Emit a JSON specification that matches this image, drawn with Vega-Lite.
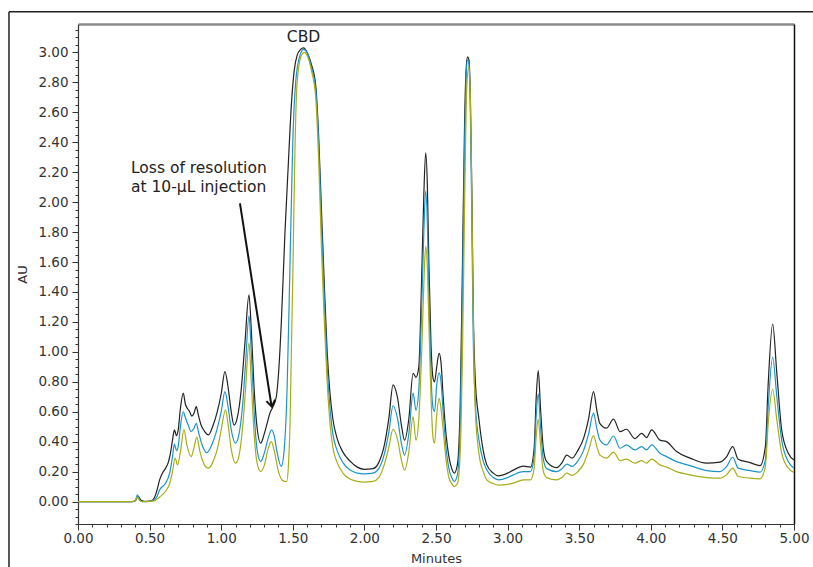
{
  "$schema": "https://vega.github.io/schema/vega-lite/v6.json",
  "width": 716,
  "height": 500,
  "autosize": "none",
  "padding": {"left": 78, "top": 24, "right": 19, "bottom": 43},
  "background": "white",
  "config": {
    "view": {"stroke": null},
    "font": "DejaVu Sans",
    "axis": {"grid": false, "labelFont": "DejaVu Sans", "titleFont": "DejaVu Sans", "labelColor": "#333333", "titleColor": "#333333", "tickColor": "#333333", "domainColor": "#333333", "labelFlush": false}
  },
  "datasets": {
    "traces": [
      {"s":"trace 1","t":0,"v":0},{"s":"trace 1","t":0.38,"v":0},{"s":"trace 1","t":0.4,"v":0.005},{"s":"trace 1","t":0.42,"v":0.035},{"s":"trace 1","t":0.44,"v":0.008},{"s":"trace 1","t":0.47,"v":0},{"s":"trace 1","t":0.51,"v":0.004},{"s":"trace 1","t":0.53,"v":0.02},{"s":"trace 1","t":0.55,"v":0.07},{"s":"trace 1","t":0.57,"v":0.145},{"s":"trace 1","t":0.59,"v":0.19},{"s":"trace 1","t":0.61,"v":0.22},{"s":"trace 1","t":0.63,"v":0.26},{"s":"trace 1","t":0.645,"v":0.32},{"s":"trace 1","t":0.66,"v":0.41},{"s":"trace 1","t":0.673,"v":0.479},{"s":"trace 1","t":0.688,"v":0.44},{"s":"trace 1","t":0.7,"v":0.48},{"s":"trace 1","t":0.715,"v":0.62},{"s":"trace 1","t":0.735,"v":0.724},{"s":"trace 1","t":0.75,"v":0.65},{"s":"trace 1","t":0.765,"v":0.62},{"s":"trace 1","t":0.78,"v":0.6},{"s":"trace 1","t":0.795,"v":0.57},{"s":"trace 1","t":0.81,"v":0.59},{"s":"trace 1","t":0.826,"v":0.634},{"s":"trace 1","t":0.84,"v":0.58},{"s":"trace 1","t":0.86,"v":0.51},{"s":"trace 1","t":0.88,"v":0.475},{"s":"trace 1","t":0.91,"v":0.445},{"s":"trace 1","t":0.94,"v":0.5},{"s":"trace 1","t":0.97,"v":0.59},{"s":"trace 1","t":1.0,"v":0.72},{"s":"trace 1","t":1.026,"v":0.868},{"s":"trace 1","t":1.05,"v":0.75},{"s":"trace 1","t":1.07,"v":0.6},{"s":"trace 1","t":1.09,"v":0.51},{"s":"trace 1","t":1.11,"v":0.55},{"s":"trace 1","t":1.14,"v":0.75},{"s":"trace 1","t":1.165,"v":1.05},{"s":"trace 1","t":1.194,"v":1.38},{"s":"trace 1","t":1.21,"v":1.15},{"s":"trace 1","t":1.23,"v":0.75},{"s":"trace 1","t":1.25,"v":0.5},{"s":"trace 1","t":1.276,"v":0.39},{"s":"trace 1","t":1.3,"v":0.45},{"s":"trace 1","t":1.32,"v":0.52},{"s":"trace 1","t":1.34,"v":0.59},{"s":"trace 1","t":1.36,"v":0.63},{"s":"trace 1","t":1.385,"v":0.7},{"s":"trace 1","t":1.4,"v":0.85},{"s":"trace 1","t":1.42,"v":1.2},{"s":"trace 1","t":1.445,"v":1.79},{"s":"trace 1","t":1.468,"v":2.24},{"s":"trace 1","t":1.49,"v":2.65},{"s":"trace 1","t":1.51,"v":2.88},{"s":"trace 1","t":1.53,"v":2.98},{"s":"trace 1","t":1.555,"v":3.02},{"s":"trace 1","t":1.575,"v":3.03},{"s":"trace 1","t":1.6,"v":3.0},{"s":"trace 1","t":1.63,"v":2.92},{"s":"trace 1","t":1.66,"v":2.78},{"s":"trace 1","t":1.68,"v":2.45},{"s":"trace 1","t":1.7,"v":1.95},{"s":"trace 1","t":1.72,"v":1.45},{"s":"trace 1","t":1.74,"v":1.0},{"s":"trace 1","t":1.76,"v":0.72},{"s":"trace 1","t":1.78,"v":0.55},{"s":"trace 1","t":1.81,"v":0.42},{"s":"trace 1","t":1.85,"v":0.33},{"s":"trace 1","t":1.9,"v":0.27},{"s":"trace 1","t":1.95,"v":0.23},{"s":"trace 1","t":2.0,"v":0.215},{"s":"trace 1","t":2.06,"v":0.22},{"s":"trace 1","t":2.1,"v":0.26},{"s":"trace 1","t":2.14,"v":0.38},{"s":"trace 1","t":2.17,"v":0.55},{"s":"trace 1","t":2.2,"v":0.78},{"s":"trace 1","t":2.23,"v":0.7},{"s":"trace 1","t":2.26,"v":0.5},{"s":"trace 1","t":2.28,"v":0.41},{"s":"trace 1","t":2.31,"v":0.55},{"s":"trace 1","t":2.34,"v":0.857},{"s":"trace 1","t":2.36,"v":0.83},{"s":"trace 1","t":2.38,"v":0.9},{"s":"trace 1","t":2.4,"v":1.5},{"s":"trace 1","t":2.415,"v":2.05},{"s":"trace 1","t":2.428,"v":2.33},{"s":"trace 1","t":2.44,"v":2.1},{"s":"trace 1","t":2.45,"v":1.6},{"s":"trace 1","t":2.465,"v":1.05},{"s":"trace 1","t":2.48,"v":0.82},{"s":"trace 1","t":2.49,"v":0.8},{"s":"trace 1","t":2.505,"v":0.9},{"s":"trace 1","t":2.522,"v":0.99},{"s":"trace 1","t":2.535,"v":0.93},{"s":"trace 1","t":2.55,"v":0.7},{"s":"trace 1","t":2.57,"v":0.45},{"s":"trace 1","t":2.59,"v":0.3},{"s":"trace 1","t":2.61,"v":0.22},{"s":"trace 1","t":2.628,"v":0.19},{"s":"trace 1","t":2.65,"v":0.25},{"s":"trace 1","t":2.67,"v":0.7},{"s":"trace 1","t":2.685,"v":1.6},{"s":"trace 1","t":2.7,"v":2.55},{"s":"trace 1","t":2.71,"v":2.88},{"s":"trace 1","t":2.72,"v":2.97},{"s":"trace 1","t":2.73,"v":2.95},{"s":"trace 1","t":2.74,"v":2.7},{"s":"trace 1","t":2.75,"v":2.1},{"s":"trace 1","t":2.76,"v":1.3},{"s":"trace 1","t":2.775,"v":0.8},{"s":"trace 1","t":2.8,"v":0.55},{"s":"trace 1","t":2.83,"v":0.34},{"s":"trace 1","t":2.855,"v":0.245},{"s":"trace 1","t":2.9,"v":0.19},{"s":"trace 1","t":2.935,"v":0.172},{"s":"trace 1","t":3.0,"v":0.19},{"s":"trace 1","t":3.04,"v":0.21},{"s":"trace 1","t":3.11,"v":0.236},{"s":"trace 1","t":3.16,"v":0.23},{"s":"trace 1","t":3.185,"v":0.35},{"s":"trace 1","t":3.2,"v":0.7},{"s":"trace 1","t":3.214,"v":0.875},{"s":"trace 1","t":3.23,"v":0.62},{"s":"trace 1","t":3.25,"v":0.35},{"s":"trace 1","t":3.273,"v":0.267},{"s":"trace 1","t":3.343,"v":0.227},{"s":"trace 1","t":3.38,"v":0.26},{"s":"trace 1","t":3.413,"v":0.31},{"s":"trace 1","t":3.45,"v":0.29},{"s":"trace 1","t":3.49,"v":0.34},{"s":"trace 1","t":3.53,"v":0.42},{"s":"trace 1","t":3.565,"v":0.55},{"s":"trace 1","t":3.6,"v":0.734},{"s":"trace 1","t":3.625,"v":0.6},{"s":"trace 1","t":3.645,"v":0.52},{"s":"trace 1","t":3.69,"v":0.49},{"s":"trace 1","t":3.74,"v":0.55},{"s":"trace 1","t":3.785,"v":0.467},{"s":"trace 1","t":3.83,"v":0.483},{"s":"trace 1","t":3.89,"v":0.42},{"s":"trace 1","t":3.936,"v":0.456},{"s":"trace 1","t":3.97,"v":0.427},{"s":"trace 1","t":4.006,"v":0.479},{"s":"trace 1","t":4.064,"v":0.41},{"s":"trace 1","t":4.11,"v":0.4},{"s":"trace 1","t":4.18,"v":0.334},{"s":"trace 1","t":4.274,"v":0.29},{"s":"trace 1","t":4.39,"v":0.256},{"s":"trace 1","t":4.483,"v":0.263},{"s":"trace 1","t":4.53,"v":0.3},{"s":"trace 1","t":4.572,"v":0.367},{"s":"trace 1","t":4.61,"v":0.283},{"s":"trace 1","t":4.693,"v":0.26},{"s":"trace 1","t":4.763,"v":0.24},{"s":"trace 1","t":4.8,"v":0.367},{"s":"trace 1","t":4.82,"v":0.79},{"s":"trace 1","t":4.851,"v":1.186},{"s":"trace 1","t":4.88,"v":0.857},{"s":"trace 1","t":4.914,"v":0.479},{"s":"trace 1","t":4.96,"v":0.323},{"s":"trace 1","t":5.0,"v":0.278},

      {"s":"trace 2","t":0,"v":0},{"s":"trace 2","t":0.38,"v":0},{"s":"trace 2","t":0.4,"v":0.005},{"s":"trace 2","t":0.415,"v":0.045},{"s":"trace 2","t":0.43,"v":0.01},{"s":"trace 2","t":0.45,"v":0},{"s":"trace 2","t":0.52,"v":0.004},{"s":"trace 2","t":0.55,"v":0.03},{"s":"trace 2","t":0.57,"v":0.078},{"s":"trace 2","t":0.61,"v":0.12},{"s":"trace 2","t":0.64,"v":0.19},{"s":"trace 2","t":0.66,"v":0.3},{"s":"trace 2","t":0.673,"v":0.383},{"s":"trace 2","t":0.688,"v":0.34},{"s":"trace 2","t":0.7,"v":0.37},{"s":"trace 2","t":0.715,"v":0.5},{"s":"trace 2","t":0.735,"v":0.6},{"s":"trace 2","t":0.75,"v":0.56},{"s":"trace 2","t":0.77,"v":0.51},{"s":"trace 2","t":0.79,"v":0.467},{"s":"trace 2","t":0.81,"v":0.49},{"s":"trace 2","t":0.826,"v":0.523},{"s":"trace 2","t":0.84,"v":0.47},{"s":"trace 2","t":0.87,"v":0.37},{"s":"trace 2","t":0.9,"v":0.327},{"s":"trace 2","t":0.93,"v":0.37},{"s":"trace 2","t":0.97,"v":0.48},{"s":"trace 2","t":1.0,"v":0.6},{"s":"trace 2","t":1.026,"v":0.734},{"s":"trace 2","t":1.05,"v":0.62},{"s":"trace 2","t":1.07,"v":0.48},{"s":"trace 2","t":1.1,"v":0.39},{"s":"trace 2","t":1.12,"v":0.43},{"s":"trace 2","t":1.15,"v":0.65},{"s":"trace 2","t":1.17,"v":0.92},{"s":"trace 2","t":1.194,"v":1.24},{"s":"trace 2","t":1.21,"v":1.0},{"s":"trace 2","t":1.23,"v":0.6},{"s":"trace 2","t":1.25,"v":0.35},{"s":"trace 2","t":1.276,"v":0.267},{"s":"trace 2","t":1.3,"v":0.32},{"s":"trace 2","t":1.33,"v":0.43},{"s":"trace 2","t":1.352,"v":0.479},{"s":"trace 2","t":1.37,"v":0.44},{"s":"trace 2","t":1.39,"v":0.33},{"s":"trace 2","t":1.42,"v":0.234},{"s":"trace 2","t":1.44,"v":0.35},{"s":"trace 2","t":1.46,"v":0.75},{"s":"trace 2","t":1.475,"v":1.35},{"s":"trace 2","t":1.49,"v":2.0},{"s":"trace 2","t":1.5,"v":2.4},{"s":"trace 2","t":1.52,"v":2.8},{"s":"trace 2","t":1.55,"v":2.98},{"s":"trace 2","t":1.575,"v":3.02},{"s":"trace 2","t":1.6,"v":3.0},{"s":"trace 2","t":1.63,"v":2.9},{"s":"trace 2","t":1.66,"v":2.75},{"s":"trace 2","t":1.68,"v":2.4},{"s":"trace 2","t":1.7,"v":1.85},{"s":"trace 2","t":1.72,"v":1.35},{"s":"trace 2","t":1.74,"v":0.9},{"s":"trace 2","t":1.76,"v":0.62},{"s":"trace 2","t":1.78,"v":0.45},{"s":"trace 2","t":1.81,"v":0.34},{"s":"trace 2","t":1.85,"v":0.26},{"s":"trace 2","t":1.9,"v":0.21},{"s":"trace 2","t":1.95,"v":0.19},{"s":"trace 2","t":2.0,"v":0.185},{"s":"trace 2","t":2.06,"v":0.19},{"s":"trace 2","t":2.1,"v":0.22},{"s":"trace 2","t":2.14,"v":0.32},{"s":"trace 2","t":2.17,"v":0.46},{"s":"trace 2","t":2.2,"v":0.64},{"s":"trace 2","t":2.23,"v":0.56},{"s":"trace 2","t":2.26,"v":0.38},{"s":"trace 2","t":2.28,"v":0.31},{"s":"trace 2","t":2.31,"v":0.45},{"s":"trace 2","t":2.34,"v":0.724},{"s":"trace 2","t":2.36,"v":0.61},{"s":"trace 2","t":2.38,"v":0.75},{"s":"trace 2","t":2.4,"v":1.3},{"s":"trace 2","t":2.415,"v":1.8},{"s":"trace 2","t":2.428,"v":2.076},{"s":"trace 2","t":2.44,"v":1.85},{"s":"trace 2","t":2.45,"v":1.4},{"s":"trace 2","t":2.465,"v":0.85},{"s":"trace 2","t":2.48,"v":0.62},{"s":"trace 2","t":2.49,"v":0.6},{"s":"trace 2","t":2.505,"v":0.78},{"s":"trace 2","t":2.522,"v":0.86},{"s":"trace 2","t":2.535,"v":0.8},{"s":"trace 2","t":2.55,"v":0.6},{"s":"trace 2","t":2.57,"v":0.36},{"s":"trace 2","t":2.59,"v":0.22},{"s":"trace 2","t":2.61,"v":0.16},{"s":"trace 2","t":2.628,"v":0.134},{"s":"trace 2","t":2.65,"v":0.18},{"s":"trace 2","t":2.67,"v":0.55},{"s":"trace 2","t":2.685,"v":1.4},{"s":"trace 2","t":2.7,"v":2.4},{"s":"trace 2","t":2.71,"v":2.82},{"s":"trace 2","t":2.72,"v":2.95},{"s":"trace 2","t":2.73,"v":2.93},{"s":"trace 2","t":2.74,"v":2.6},{"s":"trace 2","t":2.75,"v":1.9},{"s":"trace 2","t":2.76,"v":1.1},{"s":"trace 2","t":2.775,"v":0.65},{"s":"trace 2","t":2.8,"v":0.41},{"s":"trace 2","t":2.83,"v":0.27},{"s":"trace 2","t":2.855,"v":0.21},{"s":"trace 2","t":2.9,"v":0.16},{"s":"trace 2","t":2.935,"v":0.145},{"s":"trace 2","t":3.0,"v":0.16},{"s":"trace 2","t":3.04,"v":0.178},{"s":"trace 2","t":3.11,"v":0.2},{"s":"trace 2","t":3.16,"v":0.2},{"s":"trace 2","t":3.185,"v":0.3},{"s":"trace 2","t":3.2,"v":0.58},{"s":"trace 2","t":3.214,"v":0.72},{"s":"trace 2","t":3.23,"v":0.5},{"s":"trace 2","t":3.25,"v":0.28},{"s":"trace 2","t":3.273,"v":0.22},{"s":"trace 2","t":3.343,"v":0.2},{"s":"trace 2","t":3.38,"v":0.22},{"s":"trace 2","t":3.413,"v":0.25},{"s":"trace 2","t":3.45,"v":0.235},{"s":"trace 2","t":3.49,"v":0.27},{"s":"trace 2","t":3.53,"v":0.34},{"s":"trace 2","t":3.565,"v":0.45},{"s":"trace 2","t":3.6,"v":0.59},{"s":"trace 2","t":3.625,"v":0.48},{"s":"trace 2","t":3.645,"v":0.41},{"s":"trace 2","t":3.69,"v":0.378},{"s":"trace 2","t":3.74,"v":0.438},{"s":"trace 2","t":3.785,"v":0.356},{"s":"trace 2","t":3.83,"v":0.378},{"s":"trace 2","t":3.89,"v":0.345},{"s":"trace 2","t":3.936,"v":0.367},{"s":"trace 2","t":3.97,"v":0.345},{"s":"trace 2","t":4.006,"v":0.378},{"s":"trace 2","t":4.064,"v":0.323},{"s":"trace 2","t":4.11,"v":0.3},{"s":"trace 2","t":4.18,"v":0.267},{"s":"trace 2","t":4.274,"v":0.24},{"s":"trace 2","t":4.39,"v":0.207},{"s":"trace 2","t":4.483,"v":0.2},{"s":"trace 2","t":4.53,"v":0.235},{"s":"trace 2","t":4.572,"v":0.296},{"s":"trace 2","t":4.61,"v":0.223},{"s":"trace 2","t":4.693,"v":0.207},{"s":"trace 2","t":4.763,"v":0.196},{"s":"trace 2","t":4.8,"v":0.278},{"s":"trace 2","t":4.82,"v":0.634},{"s":"trace 2","t":4.851,"v":0.964},{"s":"trace 2","t":4.88,"v":0.7},{"s":"trace 2","t":4.914,"v":0.41},{"s":"trace 2","t":4.96,"v":0.267},{"s":"trace 2","t":5.0,"v":0.223},

      {"s":"trace 3","t":0,"v":0},{"s":"trace 3","t":0.38,"v":0},{"s":"trace 3","t":0.4,"v":0.01},{"s":"trace 3","t":0.415,"v":0.03},{"s":"trace 3","t":0.43,"v":0.008},{"s":"trace 3","t":0.45,"v":0},{"s":"trace 3","t":0.53,"v":0.004},{"s":"trace 3","t":0.57,"v":0.03},{"s":"trace 3","t":0.61,"v":0.067},{"s":"trace 3","t":0.64,"v":0.12},{"s":"trace 3","t":0.66,"v":0.2},{"s":"trace 3","t":0.678,"v":0.29},{"s":"trace 3","t":0.695,"v":0.245},{"s":"trace 3","t":0.715,"v":0.33},{"s":"trace 3","t":0.74,"v":0.48},{"s":"trace 3","t":0.76,"v":0.38},{"s":"trace 3","t":0.79,"v":0.3},{"s":"trace 3","t":0.81,"v":0.36},{"s":"trace 3","t":0.83,"v":0.43},{"s":"trace 3","t":0.85,"v":0.34},{"s":"trace 3","t":0.88,"v":0.25},{"s":"trace 3","t":0.91,"v":0.223},{"s":"trace 3","t":0.94,"v":0.26},{"s":"trace 3","t":0.98,"v":0.38},{"s":"trace 3","t":1.0,"v":0.48},{"s":"trace 3","t":1.03,"v":0.612},{"s":"trace 3","t":1.05,"v":0.5},{"s":"trace 3","t":1.07,"v":0.35},{"s":"trace 3","t":1.1,"v":0.256},{"s":"trace 3","t":1.12,"v":0.29},{"s":"trace 3","t":1.15,"v":0.5},{"s":"trace 3","t":1.17,"v":0.75},{"s":"trace 3","t":1.194,"v":1.06},{"s":"trace 3","t":1.21,"v":0.8},{"s":"trace 3","t":1.23,"v":0.45},{"s":"trace 3","t":1.25,"v":0.26},{"s":"trace 3","t":1.276,"v":0.2},{"s":"trace 3","t":1.3,"v":0.24},{"s":"trace 3","t":1.33,"v":0.36},{"s":"trace 3","t":1.35,"v":0.4},{"s":"trace 3","t":1.37,"v":0.34},{"s":"trace 3","t":1.4,"v":0.2},{"s":"trace 3","t":1.43,"v":0.14},{"s":"trace 3","t":1.457,"v":0.134},{"s":"trace 3","t":1.47,"v":0.25},{"s":"trace 3","t":1.48,"v":0.5},{"s":"trace 3","t":1.49,"v":1.0},{"s":"trace 3","t":1.5,"v":1.5},{"s":"trace 3","t":1.515,"v":2.35},{"s":"trace 3","t":1.53,"v":2.8},{"s":"trace 3","t":1.56,"v":2.98},{"s":"trace 3","t":1.58,"v":3.0},{"s":"trace 3","t":1.6,"v":2.98},{"s":"trace 3","t":1.63,"v":2.88},{"s":"trace 3","t":1.66,"v":2.7},{"s":"trace 3","t":1.68,"v":2.3},{"s":"trace 3","t":1.7,"v":1.7},{"s":"trace 3","t":1.72,"v":1.2},{"s":"trace 3","t":1.74,"v":0.8},{"s":"trace 3","t":1.76,"v":0.52},{"s":"trace 3","t":1.78,"v":0.36},{"s":"trace 3","t":1.81,"v":0.26},{"s":"trace 3","t":1.85,"v":0.19},{"s":"trace 3","t":1.9,"v":0.15},{"s":"trace 3","t":1.95,"v":0.135},{"s":"trace 3","t":2.0,"v":0.13},{"s":"trace 3","t":2.06,"v":0.135},{"s":"trace 3","t":2.1,"v":0.16},{"s":"trace 3","t":2.14,"v":0.25},{"s":"trace 3","t":2.17,"v":0.36},{"s":"trace 3","t":2.2,"v":0.483},{"s":"trace 3","t":2.23,"v":0.42},{"s":"trace 3","t":2.26,"v":0.27},{"s":"trace 3","t":2.28,"v":0.21},{"s":"trace 3","t":2.31,"v":0.33},{"s":"trace 3","t":2.34,"v":0.567},{"s":"trace 3","t":2.36,"v":0.41},{"s":"trace 3","t":2.38,"v":0.55},{"s":"trace 3","t":2.4,"v":1.0},{"s":"trace 3","t":2.415,"v":1.45},{"s":"trace 3","t":2.428,"v":1.707},{"s":"trace 3","t":2.44,"v":1.55},{"s":"trace 3","t":2.45,"v":1.2},{"s":"trace 3","t":2.465,"v":0.7},{"s":"trace 3","t":2.48,"v":0.42},{"s":"trace 3","t":2.49,"v":0.39},{"s":"trace 3","t":2.505,"v":0.58},{"s":"trace 3","t":2.522,"v":0.69},{"s":"trace 3","t":2.535,"v":0.62},{"s":"trace 3","t":2.55,"v":0.48},{"s":"trace 3","t":2.57,"v":0.28},{"s":"trace 3","t":2.59,"v":0.16},{"s":"trace 3","t":2.61,"v":0.12},{"s":"trace 3","t":2.628,"v":0.1},{"s":"trace 3","t":2.65,"v":0.12},{"s":"trace 3","t":2.67,"v":0.35},{"s":"trace 3","t":2.685,"v":1.0},{"s":"trace 3","t":2.7,"v":2.0},{"s":"trace 3","t":2.71,"v":2.6},{"s":"trace 3","t":2.72,"v":2.85},{"s":"trace 3","t":2.73,"v":2.9},{"s":"trace 3","t":2.74,"v":2.7},{"s":"trace 3","t":2.75,"v":2.05},{"s":"trace 3","t":2.76,"v":1.25},{"s":"trace 3","t":2.775,"v":0.6},{"s":"trace 3","t":2.8,"v":0.32},{"s":"trace 3","t":2.83,"v":0.2},{"s":"trace 3","t":2.855,"v":0.145},{"s":"trace 3","t":2.9,"v":0.12},{"s":"trace 3","t":2.935,"v":0.11},{"s":"trace 3","t":3.0,"v":0.115},{"s":"trace 3","t":3.04,"v":0.123},{"s":"trace 3","t":3.11,"v":0.145},{"s":"trace 3","t":3.16,"v":0.145},{"s":"trace 3","t":3.185,"v":0.22},{"s":"trace 3","t":3.2,"v":0.44},{"s":"trace 3","t":3.214,"v":0.55},{"s":"trace 3","t":3.23,"v":0.38},{"s":"trace 3","t":3.25,"v":0.2},{"s":"trace 3","t":3.273,"v":0.16},{"s":"trace 3","t":3.343,"v":0.145},{"s":"trace 3","t":3.38,"v":0.16},{"s":"trace 3","t":3.413,"v":0.19},{"s":"trace 3","t":3.45,"v":0.175},{"s":"trace 3","t":3.49,"v":0.2},{"s":"trace 3","t":3.53,"v":0.25},{"s":"trace 3","t":3.565,"v":0.34},{"s":"trace 3","t":3.6,"v":0.44},{"s":"trace 3","t":3.625,"v":0.36},{"s":"trace 3","t":3.645,"v":0.31},{"s":"trace 3","t":3.69,"v":0.29},{"s":"trace 3","t":3.74,"v":0.33},{"s":"trace 3","t":3.785,"v":0.274},{"s":"trace 3","t":3.83,"v":0.283},{"s":"trace 3","t":3.89,"v":0.256},{"s":"trace 3","t":3.936,"v":0.274},{"s":"trace 3","t":3.97,"v":0.256},{"s":"trace 3","t":4.006,"v":0.283},{"s":"trace 3","t":4.064,"v":0.245},{"s":"trace 3","t":4.11,"v":0.23},{"s":"trace 3","t":4.18,"v":0.2},{"s":"trace 3","t":4.274,"v":0.178},{"s":"trace 3","t":4.39,"v":0.16},{"s":"trace 3","t":4.483,"v":0.156},{"s":"trace 3","t":4.53,"v":0.18},{"s":"trace 3","t":4.572,"v":0.223},{"s":"trace 3","t":4.61,"v":0.167},{"s":"trace 3","t":4.693,"v":0.156},{"s":"trace 3","t":4.763,"v":0.152},{"s":"trace 3","t":4.8,"v":0.234},{"s":"trace 3","t":4.82,"v":0.523},{"s":"trace 3","t":4.851,"v":0.75},{"s":"trace 3","t":4.88,"v":0.545},{"s":"trace 3","t":4.914,"v":0.323},{"s":"trace 3","t":4.96,"v":0.223},{"s":"trace 3","t":5.0,"v":0.194}
    ]
  },
  "resolve": {"axis": {"x": "independent", "y": "independent"}},
  "layer": [
    {
      "data": {"name": "traces"},
      "mark": {"type": "line", "strokeWidth": 1.2, "interpolate": "monotone", "clip": true},
      "encoding": {
        "x": {"field": "t", "type": "quantitative", "scale": {"domain": [0, 5], "nice": false, "zero": false},
          "axis": {"orient": "bottom", "values": [0,0.5,1,1.5,2,2.5,3,3.5,4,4.5,5], "format": ".2f", "title": "Minutes", "tickSize": 6, "labelFontSize": 13.5, "titleFontSize": 13, "titleFontWeight": "normal", "labelPadding": 1, "titlePadding": 8, "domainWidth": 1.2}},
        "y": {"field": "v", "type": "quantitative", "scale": {"domain": [-0.15, 3.19], "nice": false, "zero": false},
          "axis": {"orient": "left", "values": [0,0.2,0.4,0.6,0.8,1,1.2,1.4,1.6,1.8,2,2.2,2.4,2.6,2.8,3], "format": ".2f", "title": "AU", "tickSize": 6, "labelFontSize": 13.5, "titleFontSize": 13, "titleFontWeight": "normal", "labelPadding": 4, "titlePadding": 8, "domainWidth": 1.2}},
        "color": {"field": "s", "type": "nominal", "scale": {"domain": ["trace 1", "trace 2", "trace 3"], "range": ["#222222", "#1b95c9", "#a9ad18"]}, "legend": null}
      }
    },
    {
      "data": {"values": [{}]},
      "mark": {"type": "text", "fontSize": 15.5, "color": "#222222", "baseline": "middle", "align": "center", "font": "DejaVu Sans"},
      "encoding": {
        "x": {"datum": 1.575, "type": "quantitative", "scale": {"domain": [0, 5], "nice": false, "zero": false},
          "axis": {"orient": "bottom", "values": [0.1,0.2,0.3,0.4,0.6,0.7,0.8,0.9,1.1,1.2,1.3,1.4,1.6,1.7,1.8,1.9,2.1,2.2,2.3,2.4,2.6,2.7,2.8,2.9,3.1,3.2,3.3,3.4,3.6,3.7,3.8,3.9,4.1,4.2,4.3,4.4,4.6,4.7,4.8,4.9], "tickSize": 3, "labels": false, "domain": false, "title": null}},
        "y": {"datum": 3.1, "type": "quantitative", "scale": {"domain": [-0.15, 3.19], "nice": false, "zero": false},
          "axis": {"orient": "left", "values": [-0.15,-0.1,-0.05,0.05,0.1,0.15,0.25,0.3,0.35,0.45,0.5,0.55,0.65,0.7,0.75,0.85,0.9,0.95,1.05,1.1,1.15,1.25,1.3,1.35,1.45,1.5,1.55,1.65,1.7,1.75,1.85,1.9,1.95,2.05,2.1,2.15,2.25,2.3,2.35,2.45,2.5,2.55,2.65,2.7,2.75,2.85,2.9,2.95,3.05,3.1,3.15], "tickSize": 3, "labels": false, "domain": false, "title": null}},
        "text": {"value": "CBD"}
      }
    },
    {
      "data": {"values": [{}]},
      "mark": {"type": "text", "fontSize": 15.5, "color": "#222222", "baseline": "top", "align": "left", "lineHeight": 19, "font": "DejaVu Sans"},
      "encoding": {
        "x": {"datum": 0.37, "type": "quantitative", "scale": {"domain": [0, 5], "nice": false, "zero": false},
          "axis": {"orient": "top", "ticks": false, "labels": false, "title": null, "domainColor": "#8c8c8c", "domainWidth": 2.5}},
        "y": {"datum": 2.275, "type": "quantitative", "scale": {"domain": [-0.15, 3.19], "nice": false, "zero": false},
          "axis": {"orient": "right", "ticks": false, "labels": false, "title": null, "domainColor": "#111111", "domainWidth": 1.5}},
        "text": {"value": ["Loss of resolution", "at 10-µL injection"]}
      }
    },
    {
      "data": {"values": [{}]},
      "mark": {"type": "rule", "color": "#111111", "strokeWidth": 2},
      "encoding": {
        "x": {"datum": 1.131, "type": "quantitative", "axis": null},
        "y": {"datum": 1.992, "type": "quantitative", "axis": null},
        "x2": {"datum": 1.351},
        "y2": {"datum": 0.64}
      }
    },
    {
      "data": {"values": [{}]},
      "mark": {"type": "point", "shape": "M -0.7 -1 L 0 0 L 0.7 -1", "filled": false, "stroke": "#111111", "strokeWidth": 2, "size": 160, "angle": 351, "opacity": 1},
      "encoding": {
        "x": {"datum": 1.353, "type": "quantitative", "axis": null},
        "y": {"datum": 0.634, "type": "quantitative", "axis": null}
      }
    },
    {
      "data": {"values": [{}]},
      "mark": {"type": "rule", "color": "#222222", "strokeWidth": 1.5, "clip": false},
      "encoding": {
        "x": {"datum": -0.482, "type": "quantitative", "axis": null},
        "y": {"datum": 3.272, "type": "quantitative", "axis": null},
        "y2": {"datum": -0.7}
      }
    },
    {
      "data": {"values": [{}]},
      "mark": {"type": "rule", "color": "#222222", "strokeWidth": 1.5, "clip": false},
      "encoding": {
        "x": {"datum": -0.482, "type": "quantitative", "axis": null},
        "x2": {"datum": 5.3},
        "y": {"datum": 3.272, "type": "quantitative", "axis": null}
      }
    }
  ]
}
